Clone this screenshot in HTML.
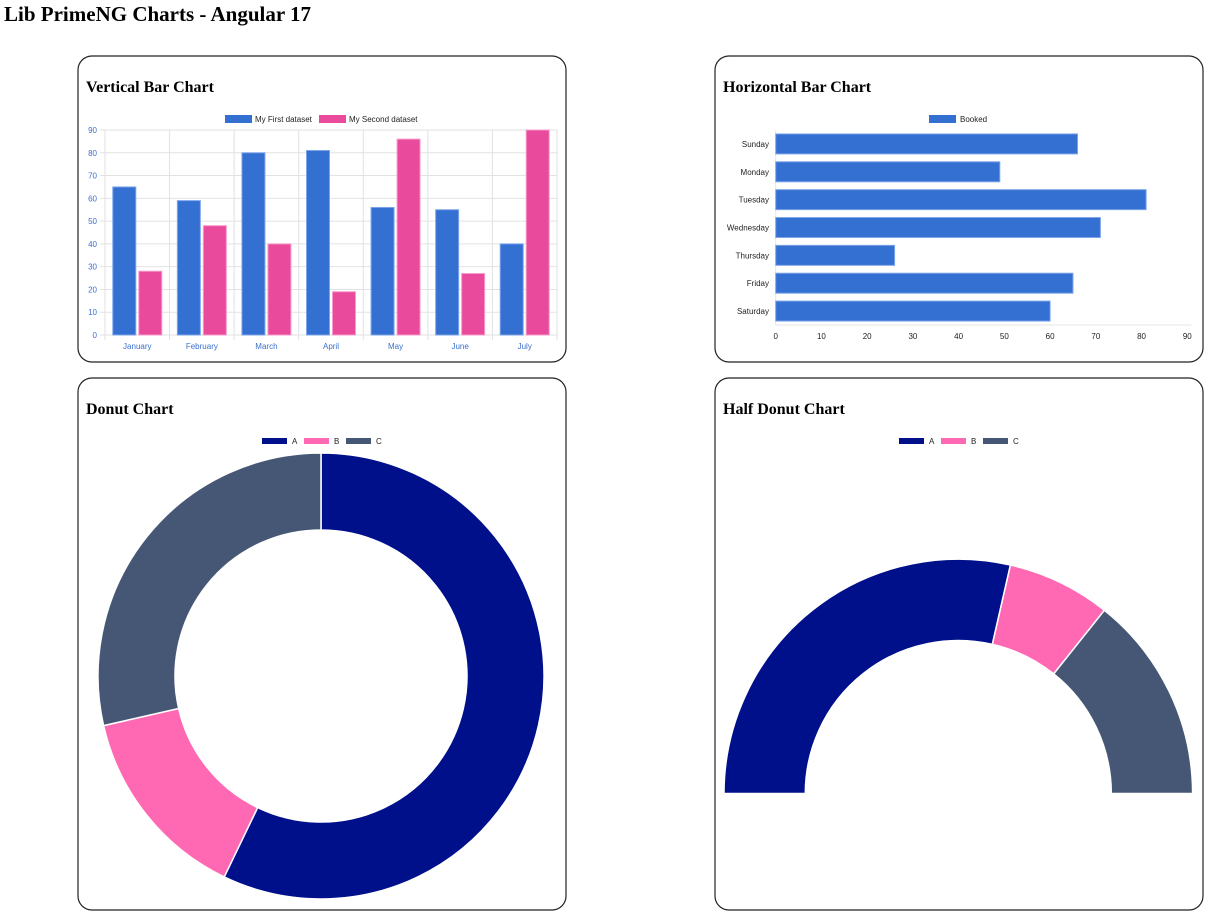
<!DOCTYPE html>
<html><head><meta charset="utf-8"><style>
body{margin:0;background:#fff;width:1216px;height:920px;overflow:hidden}
svg{display:block}
</style></head><body>
<svg id="s" width="1216" height="920" xmlns="http://www.w3.org/2000/svg">
<text x="4" y="21" font-family="Liberation Serif, serif" font-weight="bold" font-size="21">Lib PrimeNG Charts - Angular 17</text>
<g fill="none" stroke="#222" stroke-width="1.2">
<rect x="78" y="56" width="488" height="306" rx="14"/>
<rect x="715" y="56" width="488" height="306" rx="14"/>
<rect x="78" y="378" width="488" height="532" rx="14"/>
<rect x="715" y="378" width="488" height="532" rx="14"/>
</g>
<g font-family="Liberation Serif, serif" font-weight="bold" font-size="16">
<text x="86" y="92">Vertical Bar Chart</text>
<text x="723" y="92">Horizontal Bar Chart</text>
<text x="86" y="414">Donut Chart</text>
<text x="723" y="414">Half Donut Chart</text>
</g>
<g id="g1"></g><g id="g2"></g><g id="g3"></g><g id="g4"></g>
</svg>
<script>
const months=["January","February","March","April","May","June","July"];
const firstData=[65,59,80,81,56,55,40];
const secondData=[28,48,40,19,86,27,90];
const vTicks=[0,10,20,30,40,50,60,70,80,90];
const days=["Sunday","Monday","Tuesday","Wednesday","Thursday","Friday","Saturday"];
const booked=[66,49,81,71,26,65,60];
const hTicks=[0,10,20,30,40,50,60,70,80,90];
const pieLabels=["A","B","C"];
const pieValues=[400,100,200];
const pieColors=["#000f8a","#ff69b4","#465775"];

const NS="http://www.w3.org/2000/svg";
function mk(p,t,a,txt){const e=document.createElementNS(NS,t);for(const k in a)e.setAttribute(k,a[k]);if(txt!=null)e.textContent=txt;p.appendChild(e);return e;}
const F="Liberation Sans, Arial, sans-serif";

// Vertical bar chart
(function(){
const g=document.getElementById('g1');
const x0=105,x1=557,yTop=130,yBot=335,max=90;
const ys=v=>yBot-(v/max)*(yBot-yTop);
const cw=(x1-x0)/months.length;
vTicks.forEach(t=>{
 const l=mk(g,'line',{x1:x0-5,x2:x1,y1:ys(t),y2:ys(t),stroke:'#e2e2e2'});
 
 const tx=mk(g,'text',{x:x0-8,y:ys(t)+3,'text-anchor':'end','font-family':F,'font-size':8,fill:'#3a6fd0'},t);
 
});
for(let i=0;i<=months.length;i++){
 const l=mk(g,'line',{x1:x0+i*cw,x2:x0+i*cw,y1:yTop,y2:yBot+5,stroke:'#e2e2e2'});
 
}
months.forEach((m,i)=>{
 const cx=x0+i*cw+cw/2, bw=23;
 const b1=mk(g,'rect',{x:cx-bw-1.5,y:ys(firstData[i]),width:bw,height:yBot-ys(firstData[i]),fill:'#3370d1',stroke:'#7ea5ea','stroke-width':1});
 
 const b2=mk(g,'rect',{x:cx+1.5,y:ys(secondData[i]),width:bw,height:yBot-ys(secondData[i]),fill:'#ea4a9c',stroke:'#f79ccb','stroke-width':1});
 
 const t=mk(g,'text',{x:cx,y:349,'text-anchor':'middle','font-family':F,'font-size':8,fill:'#3a6fd0'},m);
 
});
const lg=[["My First dataset","#3370d1",225],["My Second dataset","#ea4a9c",319]];
lg.forEach(([n,c,x])=>{
 const r=mk(g,'rect',{x:x,y:115,width:27,height:8,fill:c});
 
 const t=mk(g,'text',{x:x+30,y:122,'font-family':F,'font-size':8,fill:'#222'},n);
 
});
})();

// Horizontal bar chart
(function(){
const g=document.getElementById('g2');
const x0=775.7,x1=1187.3,yTop=130,yBot=325,max=90;
const xs=v=>x0+(v/max)*(x1-x0);
const rh=(yBot-yTop)/days.length;
mk(g,'line',{x1:x0,x2:x0,y1:yTop,y2:yBot,stroke:'#e6e6e6'});
mk(g,'line',{x1:x0,x2:x1+4,y1:yBot,y2:yBot,stroke:'#e6e6e6'});
hTicks.forEach(t=>{
 const tx=mk(g,'text',{x:xs(t),y:339,'text-anchor':'middle','font-family':F,'font-size':8,fill:'#222'},t);
 
});
days.forEach((d,i)=>{
 const cy=yTop+i*rh+rh/2;
 const b=mk(g,'rect',{x:x0,y:cy-10,width:xs(booked[i])-x0,height:20,fill:'#3370d1',stroke:'#7ea5ea','stroke-width':1});
 
 const t=mk(g,'text',{x:769,y:cy+3,'text-anchor':'end','font-family':F,'font-size':8,fill:'#222'},d);
 
});
const r=mk(g,'rect',{x:929,y:115,width:27,height:8,fill:'#3370d1'});

const t=mk(g,'text',{x:960,y:122,'font-family':F,'font-size':8,fill:'#222'},'Booked');

})();

function arc(cx,cy,R,r,a0,a1){ // angles in degrees clockwise from top
 const p=(rad,a)=>[cx+rad*Math.sin(a*Math.PI/180),cy-rad*Math.cos(a*Math.PI/180)];
 const lg=(a1-a0)>180?1:0;
 const [x1,y1]=p(R,a0),[x2,y2]=p(R,a1),[x3,y3]=p(r,a1),[x4,y4]=p(r,a0);
 return `M${x1} ${y1}A${R} ${R} 0 ${lg} 1 ${x2} ${y2}L${x3} ${y3}A${r} ${r} 0 ${lg} 0 ${x4} ${y4}Z`;
}
function legend(g,cx){
 const xs=[cx-60,cx-18,cx+24];
 pieLabels.forEach((l,i)=>{
  const r=mk(g,'rect',{x:xs[i],y:438,width:25,height:6,fill:pieColors[i]});
  
  const t=mk(g,'text',{x:xs[i]+30,y:444,'font-family':F,'font-size':8,fill:'#222'},l);
  
 });
}
function donut(g,cx,cy,R,r,start,span){
 const tot=pieValues.reduce((a,b)=>a+b,0);let a=start;
 pieValues.forEach((v,i)=>{
  const s=span*v/tot;
  const p=mk(g,'path',{d:arc(cx,cy,R,r,a,a+s),fill:pieColors[i],stroke:'#fff','stroke-width':1.5});
  
  a+=s;
 });
}
const g3=document.getElementById('g3');legend(g3,322);donut(g3,321,676,223,146,0,360);
const g4=document.getElementById('g4');legend(g4,959);donut(g4,958.3,793.5,234.3,153,-90,180);
</script>
</body></html>
